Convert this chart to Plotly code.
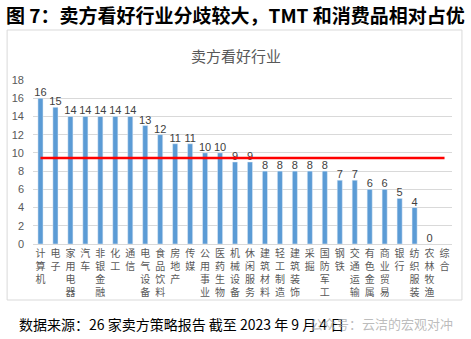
import plotly.graph_objects as go

categories = ["计算机", "电子", "家用电器", "汽车", "非银金融", "化工", "通信", "电气设备",
              "食品饮料", "房地产", "传媒", "公用事业", "医药生物", "机械设备", "休闲服务",
              "建筑材料", "轻工制造", "建筑装饰", "采掘", "国防军工", "钢铁", "交通运输",
              "有色金属", "商业贸易", "银行", "纺织服装", "农林牧渔", "综合"]
values = [16, 15, 14, 14, 14, 14, 14, 13, 12, 11, 11, 10, 10, 9, 9,
          8, 8, 8, 8, 8, 7, 7, 6, 6, 5, 4, 0, None]
average = [9.45] * len(categories)
y_ticks = [0, 2, 4, 6, 8, 10, 12, 14, 16, 18]

FONT = "Noto Sans CJK SC"
NUMFONT = "Liberation Sans Narrow, Liberation Sans, Noto Sans CJK SC"
tick_text = ["<br>".join(list(c)) for c in categories]

fig = go.Figure()
fig.add_trace(go.Bar(
    x=categories, y=values, marker_color="#5B9BD5",
    text=[("" if v is None else str(v)) for v in values],
    textposition="outside", cliponaxis=False, constraintext="none",
    textfont=dict(family=NUMFONT, size=11, color="#404040"),
    showlegend=False,
))
fig.add_trace(go.Scatter(
    x=categories, y=average, mode="lines",
    line=dict(color="#FF0000", width=2.5), showlegend=False,
))

fig.update_layout(
    width=471, height=339,
    margin=dict(l=31, r=19, t=80, b=95),
    paper_bgcolor="white", plot_bgcolor="white",
    bargap=0.66,
    font=dict(family=FONT, color="#595959"),
    xaxis=dict(
        tickmode="array", tickvals=categories, ticktext=tick_text,
        tickangle=0, tickfont=dict(size=10, color="#595959"),
        showline=True, linecolor="#D9D9D9", linewidth=1,
        showgrid=False, ticks="",
    ),
    yaxis=dict(
        range=[0, 18], tickvals=y_ticks,
        tickfont=dict(family=NUMFONT, size=11, color="#595959"),
        ticklabelstandoff=8,
        showgrid=True, gridcolor="#D9D9D9", gridwidth=1,
        zeroline=False, showline=False, ticks="",
    ),
    shapes=[dict(type="rect", xref="paper", yref="paper",
                 x0=-26/421, x1=431/421, y0=-56/164, y1=214/164,
                 line=dict(color="#D9D9D9", width=1), fillcolor="rgba(0,0,0,0)",
                 layer="below")],
    annotations=[
        dict(text="<b>图 7：卖方看好行业分歧较大，TMT 和消费品相对占优</b>",
             xref="paper", yref="paper", x=-29/421, y=(244-14)/164,
             xanchor="left", yanchor="middle", showarrow=False,
             font=dict(family=FONT, size=19, color="#000000")),
        dict(text="卖方看好行业", xref="paper", yref="paper",
             x=(235-31)/421, y=(244-55)/164, xanchor="center", yanchor="middle",
             showarrow=False, font=dict(family=FONT, size=15, color="#595959")),
        dict(text="数据来源：26 家卖方策略报告 截至 2023 年 9 月 4 日",
             xref="paper", yref="paper", x=-16/421, y=(244-324)/164,
             xanchor="left", yanchor="middle", showarrow=False,
             font=dict(family=FONT, size=14, color="#000000")),
        dict(text="公众号：云洁的宏观对冲",
             xref="paper", yref="paper", x=(455-31)/421, y=(244-323)/164,
             xanchor="right", yanchor="middle", showarrow=False,
             font=dict(family=FONT, size=13, color="rgba(160,160,160,0.7)")),
    ],
)

fig.write_html("out.html")
